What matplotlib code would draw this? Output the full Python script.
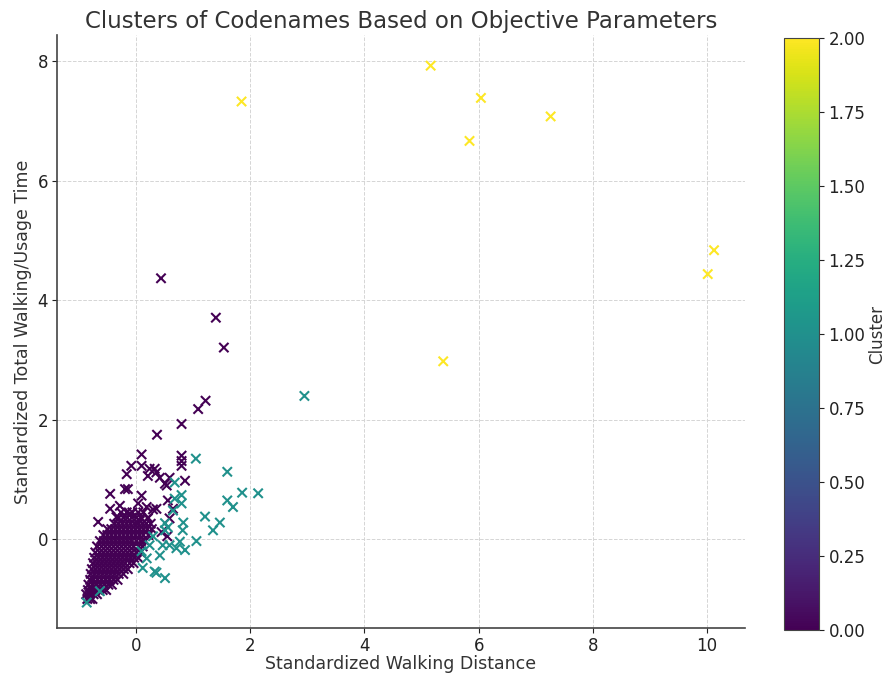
import numpy as np
import matplotlib
matplotlib.use("Agg")
import matplotlib.pyplot as plt

# Cluster 0 - scattered points outside the dense core
c0_x = [0.44, 1.40, 1.54, 1.22, 1.09, 0.80, 0.37,
        0.10, 0.80, 0.80, 0.80, 0.86, -0.08, -0.16, 0.24, 0.33, 0.36, 0.10, 0.21, 0.42, 0.59, 0.51, 0.54,
        -0.45, -0.19, -0.14, 0.10, 0.04, -0.28, -0.45, 0.19, 0.36, 0.56, 0.65,
        -0.66, -0.34, -0.10, 0.07, 0.21, 0.59, 0.45, 0.30, 0.55]
c0_y = [4.37, 3.71, 3.21, 2.32, 2.18, 1.93, 1.75,
        1.42, 1.40, 1.31, 1.23, 0.98, 1.23, 1.09, 1.18, 1.18, 1.12, 1.23, 1.06, 1.03, 1.03, 0.93, 0.90,
        0.76, 0.84, 0.84, 0.73, 0.60, 0.56, 0.51, 0.54, 0.51, 0.65, 0.51,
        0.29, 0.37, 0.43, 0.31, 0.35, 0.35, 0.12, 0.50, 0.05]

# Cluster 0 - dense core, read row by row (y level -> x positions)
core_y = [-1.00, -0.92, -0.85, -0.76, -0.68, -0.58, -0.50, -0.40, -0.31,
          -0.22, -0.12, -0.03, 0.07, 0.17, 0.26, 0.36, 0.45]
core_x = [
    [-0.85, -0.80, -0.76],
    [-0.87, -0.81, -0.74, -0.68],
    [-0.84, -0.78, -0.71, -0.65, -0.58, -0.52],
    [-0.83, -0.76, -0.69, -0.62, -0.55, -0.48, -0.42],
    [-0.80, -0.74, -0.67, -0.60, -0.53, -0.46, -0.39, -0.32],
    [-0.79, -0.72, -0.65, -0.58, -0.51, -0.44, -0.37, -0.30, -0.22],
    [-0.77, -0.70, -0.63, -0.56, -0.49, -0.42, -0.35, -0.28, -0.21, -0.14],
    [-0.75, -0.68, -0.61, -0.54, -0.47, -0.40, -0.33, -0.26, -0.19, -0.11, -0.04],
    [-0.73, -0.66, -0.59, -0.52, -0.45, -0.38, -0.31, -0.24, -0.17, -0.10, -0.03, 0.04],
    [-0.71, -0.63, -0.56, -0.49, -0.42, -0.35, -0.28, -0.21, -0.14, -0.07, 0.01, 0.08],
    [-0.68, -0.60, -0.53, -0.46, -0.39, -0.32, -0.25, -0.18, -0.11, -0.04, 0.05, 0.12],
    [-0.63, -0.56, -0.49, -0.42, -0.35, -0.28, -0.21, -0.14, -0.07, 0.01, 0.09, 0.16],
    [-0.57, -0.50, -0.43, -0.36, -0.29, -0.22, -0.15, -0.08, -0.01, 0.06, 0.13, 0.22],
    [-0.50, -0.43, -0.36, -0.29, -0.22, -0.15, -0.08, -0.01, 0.06, 0.13, 0.20, 0.28],
    [-0.38, -0.31, -0.24, -0.17, -0.10, -0.03, 0.04, 0.11, 0.18, 0.26],
    [-0.30, -0.22, -0.15, -0.07, 0.01, 0.09, 0.21],
    [-0.26, -0.16, -0.06, 0.04, 0.13],
]

# Cluster 1
c1_x = [2.95, 1.05, 1.60, 1.86, 2.14, 1.60, 1.70, 1.21, 1.47, 1.35, 1.06,
        0.80, 0.80, 0.68, 0.68, 0.65, 0.83, 0.82, 0.56, 0.51, 0.51,
        0.71, 0.86, 0.77, 0.59, 0.47, 0.42, 0.24, 0.19, 0.12, 0.36, 0.51, 0.33,
        0.10, 0.30, -0.63, -0.86]
c1_y = [2.40, 1.35, 1.13, 0.78, 0.77, 0.65, 0.54, 0.38, 0.28, 0.15, -0.03,
        0.74, 0.60, 0.68, 0.95, 0.48, 0.28, 0.15, 0.20, 0.27, 0.15,
        -0.15, -0.18, -0.04, -0.10, -0.10, -0.27, -0.10, -0.32, -0.48, -0.56, -0.65, -0.54,
        -0.20, 0.05, -0.87, -1.06]

# Cluster 2
c2_x = [1.85, 5.16, 6.04, 5.84, 7.26, 10.12, 10.01, 5.38]
c2_y = [7.33, 7.93, 7.39, 6.67, 7.08, 4.84, 4.44, 2.98]

# assemble
xs, ys, cl = [], [], []
for yv, row in zip(core_y, core_x):
    xs += row
    ys += [yv] * len(row)
xs += c0_x
ys += c0_y
cl += [0] * (len(xs) - len(cl))
xs += c1_x
ys += c1_y
cl += [1] * len(c1_x)
xs += c2_x
ys += c2_y
cl += [2] * len(c2_x)

fig = plt.figure(figsize=(8.91, 6.77), dpi=100)
ax = fig.add_axes([0.064, 0.072, 0.772, 0.876])
cax = fig.add_axes([0.880, 0.069, 0.039, 0.875])

sc = ax.scatter(xs, ys, c=cl, cmap='viridis', marker='x', s=45, linewidths=1.5, vmin=0, vmax=2)

ax.set_xlim(-1.38, 10.66)
ax.set_ylim(-1.49, 8.44)
ax.set_xticks([0, 2, 4, 6, 8, 10])
ax.set_yticks([0, 2, 4, 6, 8])
ax.grid(True, linestyle='--', color='#d5d5d5', linewidth=0.7)
ax.set_axisbelow(True)
for s in ['top', 'right']:
    ax.spines[s].set_visible(False)
for s in ['left', 'bottom']:
    ax.spines[s].set_color('#444444')
    ax.spines[s].set_linewidth(1.2)
ax.tick_params(labelsize=12, colors='#222222', pad=3)

ax.set_title('Clusters of Codenames Based on Objective Parameters', fontsize=16.5, color='#333333', pad=5)
ax.set_xlabel('Standardized Walking Distance', fontsize=12.5, color='#333333', labelpad=0)
ax.set_ylabel('Standardized Total Walking/Usage Time', fontsize=12.5, color='#333333')

cb = fig.colorbar(sc, cax=cax)
cb.set_ticks([0, 0.25, 0.5, 0.75, 1.0, 1.25, 1.5, 1.75, 2.0])
cb.ax.tick_params(labelsize=12, colors='#222222')
cb.set_label('Cluster', fontsize=12, color='#333333', labelpad=2)
cb.outline.set_edgecolor('#444444')

fig.savefig('out.png', dpi=100)
